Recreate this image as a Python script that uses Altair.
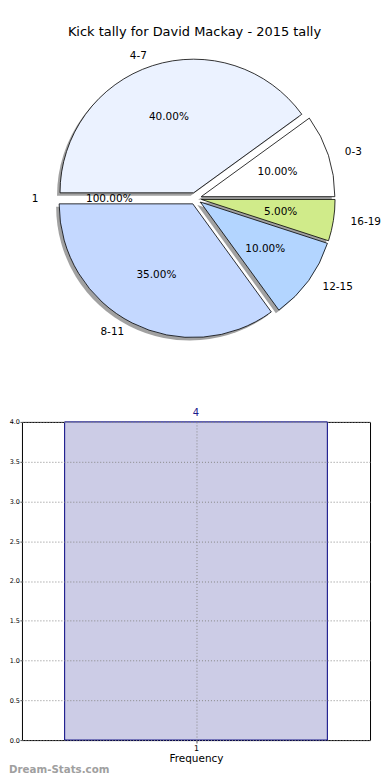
import math
import altair as alt
import pandas as pd

# ---------------- data ----------------
chart_title = "Kick tally for David Mackay - 2015 tally"
slice_labels = ["0-3", "4-7", "1", "8-11", "12-15", "16-19"]
slice_shares = [10, 40, 0, 35, 10, 5]
slice_pct_text = ["10.00%", "40.00%", "100.00%", "35.00%", "10.00%", "5.00%"]
slice_colors = ["#ffffff", "#ebf2ff", "#ffffff", "#c4d8ff", "#b3d5ff", "#d0eb8a"]

bar_categories = [1]
bar_counts = [4]
y_tick_values = [0.0, 0.5, 1.0, 1.5, 2.0, 2.5, 3.0, 3.5, 4.0]
watermark = "Dream-Stats.com"

FONT = "DejaVu Sans"

# ---------------- layout constants ----------------
PIE_W, PIE_H = 350, 413
CX, CY, R, EXPL = 174, 189, 134, 6

pie_df = pd.DataFrame({
    "label": slice_labels,
    "share": slice_shares,
    "pct": slice_pct_text,
    "color": slice_colors,
    "order": list(range(len(slice_labels))),
})

pie_base = (
    alt.Chart(pie_df)
    .transform_window(cum="sum(share)", sort=[alt.SortField("order")], frame=[None, 0])
    .transform_calculate(
        a0="2*PI*(datum.cum - datum.share)/100",
        a1="2*PI*datum.cum/100",
    )
    .transform_calculate(
        m="(datum.a0 + datum.a1)/2",
        t0="PI/2 - datum.a0",
        t1="PI/2 - datum.a1",
    )
    .transform_calculate(
        px=f"{CX} + {EXPL}*cos(datum.m)",
        py=f"{CY} - {EXPL}*sin(datum.m)",
    )
    .transform_calculate(
        sx="datum.px - 3",
        sy="datum.py + 3",
        lx=f"datum.px + 1.13*{R}*cos(datum.m)",
        ly=f"datum.py - 1.08*{R}*sin(datum.m)",
        tx=f"datum.px + 0.6*{R}*cos(datum.m)",
        ty=f"datum.py - 0.6*{R}*sin(datum.m)",
        side="cos(datum.m) > 0 ? 'L' : 'R'",
    )
)

shadows = pie_base.transform_filter("datum.share > 0").mark_arc(
    radius=R, fill="#444444", opacity=0.5
).encode(
    x=alt.X("sx:Q", scale=None),
    y=alt.Y("sy:Q", scale=None),
    theta=alt.Theta("t0:Q", scale=None),
    theta2="t1:Q",
)

wedges = pie_base.transform_filter("datum.share > 0").mark_arc(
    radius=R, stroke="black", strokeWidth=0.8
).encode(
    x=alt.X("px:Q", scale=None),
    y=alt.Y("py:Q", scale=None),
    theta=alt.Theta("t0:Q", scale=None),
    theta2="t1:Q",
    fill=alt.Fill("color:N", scale=None),
)

pct_text = pie_base.mark_text(font=FONT, fontSize=10.5, baseline="middle", align="center", color="black").encode(
    x=alt.X("tx:Q", scale=None),
    y=alt.Y("ty:Q", scale=None),
    text="pct:N",
)

lab_left = pie_base.transform_filter("datum.side == 'L'").mark_text(
    font=FONT, fontSize=10.5, baseline="middle", align="left", color="black"
).encode(
    x=alt.X("lx:Q", scale=None),
    y=alt.Y("ly:Q", scale=None),
    text="label:N",
)
lab_right = pie_base.transform_filter("datum.side == 'R'").mark_text(
    font=FONT, fontSize=10.5, baseline="middle", align="right", color="black"
).encode(
    x=alt.X("lx:Q", scale=None),
    y=alt.Y("ly:Q", scale=None),
    text="label:N",
)

title_mark = alt.Chart(pd.DataFrame({"t": [chart_title]})).mark_text(
    font=FONT, fontSize=13, align="center", baseline="middle", color="black"
).encode(x=alt.value(173), y=alt.value(22), text="t:N")

pie_panel = alt.layer(shadows, wedges, pct_text, lab_left, lab_right, title_mark).properties(
    width=PIE_W, height=PIE_H, view=alt.ViewBackground(stroke="transparent")
)

# ---------------- bar chart ----------------
bar_df = pd.DataFrame({"cat": bar_categories, "freq": bar_counts})
xscale = alt.Scale(domain=[0.47, 1.53], nice=False, zero=False)
yscale = alt.Scale(domain=[0, 4], nice=False, zero=True)

x_axis = alt.Axis(
    values=bar_categories, format="d", title="Frequency", grid=True,
    gridDash=[1, 2], gridColor="#888888", zindex=1,
    labelFontSize=8, tickSize=3, labelPadding=1, titlePadding=1,
    titleFontSize=10.5, titleFontWeight="normal", titleFont=FONT, labelFont=FONT,
    domain=False, tickColor="#555555", labelColor="black", titleColor="black",
)
y_axis = alt.Axis(
    values=y_tick_values, format=".1f", title=None, grid=True,
    gridDash=[1, 2], gridColor="#888888", zindex=1,
    labelOverlap=False, labelFontSize=6.5, tickSize=2, labelPadding=0.5, labelFont=FONT,
    domain=False, tickColor="#555555", labelColor="black",
)

bar_base = alt.Chart(bar_df).transform_calculate(x0="datum.cat - 0.4", x1="datum.cat + 0.4")

bars = bar_base.mark_rect(fill="#ccccE6", stroke="#000080", strokeWidth=1).encode(
    x=alt.X("x0:Q", scale=xscale, axis=x_axis, title="Frequency"),
    x2="x1:Q",
    y=alt.Y("freq:Q", scale=yscale, axis=y_axis, title=None),
    y2=alt.datum(0),
)

bar_label = bar_base.mark_text(font=FONT, fontSize=10, color="#1a1a8c", dy=-9).encode(
    x=alt.X("cat:Q", scale=xscale, axis=x_axis, title="Frequency"),
    y=alt.Y("freq:Q", scale=yscale, axis=y_axis, title=None),
    text="freq:Q",
)

wm = alt.Chart(pd.DataFrame({"w": [watermark]})).mark_text(
    font=FONT, fontSize=10.3, fontWeight="bold", color="#a0a0a0", align="left", baseline="middle"
).encode(x=alt.value(-13), y=alt.value(349), text="w:N")

bar_panel = alt.layer(bars, bar_label, wm).properties(width=349, height=319)

chart = alt.vconcat(pie_panel, bar_panel, spacing=0, bounds="flush").properties(
    padding=0
).configure_view(stroke="black", strokeWidth=1)

chart.save("out.html", embed_options={"renderer": "svg", "actions": False})
